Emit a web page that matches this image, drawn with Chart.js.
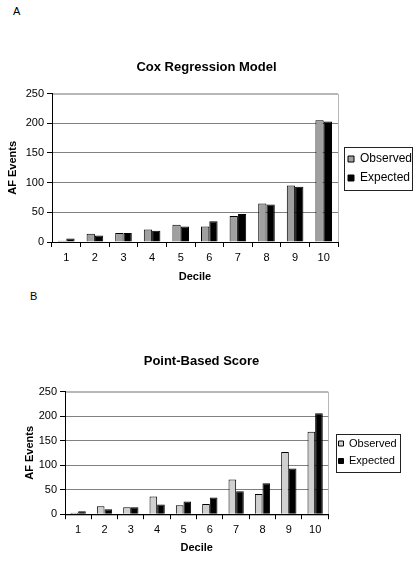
<!DOCTYPE html>
<html>
<head>
<meta charset="utf-8">
<script src="https://cdn.jsdelivr.net/npm/chart.js@4.4.1/dist/chart.umd.min.js"></script>
<style>
  body { margin: 0; background: #fff; width: 413px; height: 562px; overflow: hidden; position: relative; font-family: 'Liberation Sans', Arial, sans-serif; }
  .panel { position: absolute; left: 0; }
  .tag { position: absolute; font-size: 11px; color: #000; }
</style>
</head>
<body>
<span class="tag" style="left:13px;top:5px;">A</span>
<span class="tag" style="left:30px;top:290px;">B</span>
<div class="panel" style="top:0;"><canvas id="chartA" width="413" height="290"></canvas></div>
<div class="panel" style="top:290px;"><canvas id="chartB" width="413" height="272"></canvas></div>
<script>
const deciles = ['1', '2', '3', '4', '5', '6', '7', '8', '9', '10'];
const seriesNames = ['Observed', 'Expected'];

// panel A - Cox regression model
const coxObserved = [2, 14, 15, 21, 29, 26, 44, 65, 95, 205];
const coxExpected = [6, 11, 15, 19, 26, 35, 47, 63, 93, 203];

// panel B - point-based score
const pointObserved = [3, 16, 14, 36, 18, 21, 71, 41, 127, 168];
const pointExpected = [6, 10, 14, 20, 26, 34, 47, 63, 93, 206];

const yTicks = [0, 50, 100, 150, 200, 250];

const FONT = "'Liberation Sans', Arial, sans-serif";
Chart.defaults.font.family = FONT;
Chart.defaults.color = '#000';

// light grey frame round the plot (top + right side), axes are drawn over it
const plotFrame = {
  id: 'plotFrame',
  beforeDraw(chart) {
    const a = chart.chartArea;
    const ctx = chart.ctx;
    ctx.save();
    ctx.strokeStyle = '#b8b8b8';
    ctx.lineWidth = 1;
    ctx.strokeRect(Math.round(a.left) + 0.5, Math.round(a.top) + 0.5, Math.round(a.right - a.left), Math.round(a.bottom - a.top));
    ctx.restore();
  }
};

// move legend to a fixed spot and put a box round it
const legendBox = {
  id: 'legendBox',
  afterLayout(chart, args, opts) {
    const L = chart.legend;
    if (!L) return;
    const w = L.width, h = L.height;
    L.left = opts.x; L.right = opts.x + w;
    L.top = opts.y; L.bottom = opts.y + h;
  },
  afterDraw(chart, args, opts) {
    const L = chart.legend;
    if (!L || !L.legendHitBoxes.length) return;
    const boxes = L.legendHitBoxes;
    const left = Math.min(...boxes.map(b => b.left)) - opts.padX;
    const right = Math.min(chart.width - 1, Math.max(...boxes.map(b => b.left + b.width)) + opts.padRight);
    const top = boxes[0].top - opts.padY;
    const bottom = boxes[boxes.length - 1].top + boxes[boxes.length - 1].height + opts.padY;
    const ctx = chart.ctx;
    ctx.save();
    ctx.strokeStyle = '#222';
    ctx.lineWidth = 1;
    ctx.strokeRect(Math.round(left) + 0.5, Math.round(top) + 0.5, Math.round(right - left), Math.round(bottom - top));
    ctx.restore();
  }
};

function makeChart(id, cfg) {
  return new Chart(document.getElementById(id), {
    type: 'bar',
    data: {
      labels: deciles,
      datasets: [
        { label: seriesNames[0], data: cfg.observed, backgroundColor: cfg.obsColor, borderColor: '#000', borderWidth: 1, categoryPercentage: 0.58, barPercentage: 1 },
        { label: seriesNames[1], data: cfg.expected, backgroundColor: '#000', borderColor: '#000', borderWidth: 1, categoryPercentage: 0.58, barPercentage: 1 }
      ]
    },
    plugins: [plotFrame, legendBox],
    options: {
      responsive: false,
      animation: false,
      devicePixelRatio: 1,
      layout: { padding: { left: 0, top: 0, right: cfg.padRight, bottom: cfg.padBottom } },
      plugins: {
        title: {
          display: true,
          text: cfg.title,
          color: '#000',
          font: { size: 13, weight: 'bold', family: FONT },
          padding: cfg.titlePad
        },
        legend: {
          position: 'right',
          align: 'start',
          maxWidth: 75,
          labels: {
            boxWidth: cfg.legendBoxW,
            boxHeight: cfg.legendBoxW,
            padding: cfg.legendPad,
            color: '#000',
            font: { size: cfg.legendFont, family: FONT }
          }
        },
        legendBox: cfg.legendPos,
        tooltip: { enabled: false }
      },
      scales: {
        x: {
          grid: { display: true, drawOnChartArea: false, offset: true, tickLength: 5, tickColor: '#000', color: '#000' },
          border: { color: '#000', width: 1 },
          ticks: { font: { size: 11 }, color: '#000', padding: 4.5, maxRotation: 0 },
          title: { display: true, text: 'Decile', color: '#000', font: { size: 11, weight: 'bold' }, padding: { top: cfg.xTitlePad, bottom: 0 } }
        },
        y: {
          min: 0,
          max: 250,
          afterFit(scale) { scale.width = cfg.yWidth; },
          afterBuildTicks(scale) { scale.ticks = yTicks.map(v => ({ value: v })); },
          grid: {
            tickLength: 5,
            tickColor: '#000',
            color: c => c.tick.value === 0 ? 'rgba(0,0,0,0)' : (c.tick.value === 250 ? '#b8b8b8' : '#808080')
          },
          border: { color: '#000', width: 1 },
          ticks: { font: { size: 11 }, color: '#000', padding: 3 },
          title: { display: true, text: 'AF Events', color: '#000', font: { size: 11, weight: 'bold' }, padding: { top: cfg.yTitlePad, bottom: 0 } }
        }
      }
    }
  });
}

makeChart('chartA', {
  title: 'Cox Regression Model',
  observed: coxObserved,
  expected: coxExpected,
  obsColor: '#a0a0a0',
  titlePad: { top: 60, bottom: 18 },
  padRight: 0,
  padBottom: 6.4,
  xTitlePad: 1.2,
  yWidth: 52,
  yTitlePad: 6.5,
  legendFont: 12,
  legendPad: 7,
  legendBoxW: 6,
  legendPos: { x: 341, y: 146, padX: 4, padY: 6, padRight: 2 }
});

makeChart('chartB', {
  title: 'Point-Based Score',
  observed: pointObserved,
  expected: pointExpected,
  obsColor: '#d0d0d0',
  titlePad: { top: 64, bottom: 22 },
  padRight: 10,
  padBottom: 7.4,
  xTitlePad: 0,
  yWidth: 65,
  yTitlePad: 23.5,
  legendFont: 11,
  legendPad: 6.5,
  legendBoxW: 5,
  legendPos: { x: 332, y: 141.5, padX: 3, padY: 4.5, padRight: 3 }
});
</script>
</body>
</html>
